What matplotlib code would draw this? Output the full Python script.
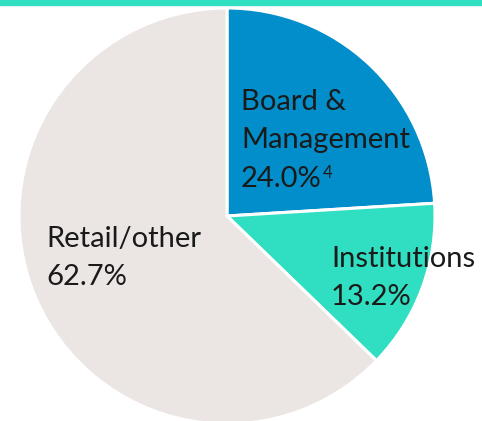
import matplotlib.pyplot as plt
from matplotlib.patches import Rectangle

W, H = 482, 421

labels = ["Board &\nManagement", "Institutions", "Retail/other"]
shares = [24.0, 13.2, 62.7]
colors = ["#028eca", "#30dfc2", "#ebe6e3"]

fig = plt.figure(figsize=(W / 100, H / 100), dpi=100)
ax = fig.add_axes([0, 0, 1, 1])

ax.pie(shares, colors=colors, startangle=90, counterclock=False,
       center=(227, H - 216), radius=208, frame=True,
       wedgeprops=dict(edgecolor="white", linewidth=2.2))
ax.set_xlim(0, W)
ax.set_ylim(0, H)
ax.axis("off")

# teal band along the top
fig.patches.append(Rectangle((0, 1 - 5 / H), 1, 5 / H, transform=fig.transFigure,
                             color="#30dfc2", zorder=5))

font = dict(family="Lato", size=21, color="#1a1a1a", va="baseline", ha="left")
ax.text(241, H - 110, "Board &", **font)
ax.text(241, H - 148, "Management", **font)
pct = ax.text(241, H - 187, f"{shares[0]:.1f}%", **font)
ax.text(331, H - 267, "Institutions", **font)
ax.text(331, H - 305, f"{shares[1]:.1f}%", **font)
ax.text(46, H - 247, "Retail/other", **font)
ax.text(46, H - 285, f"{shares[2]:.1f}%", **font)

# footnote marker right after the percentage
r = fig.canvas.get_renderer()
bb = pct.get_window_extent(r)
ax.text(bb.x1 + 1, H - 178, "4", family="Lato", size=12, color="#1a1a1a",
        va="baseline", ha="left")

fig.savefig("out.png", dpi=100)
